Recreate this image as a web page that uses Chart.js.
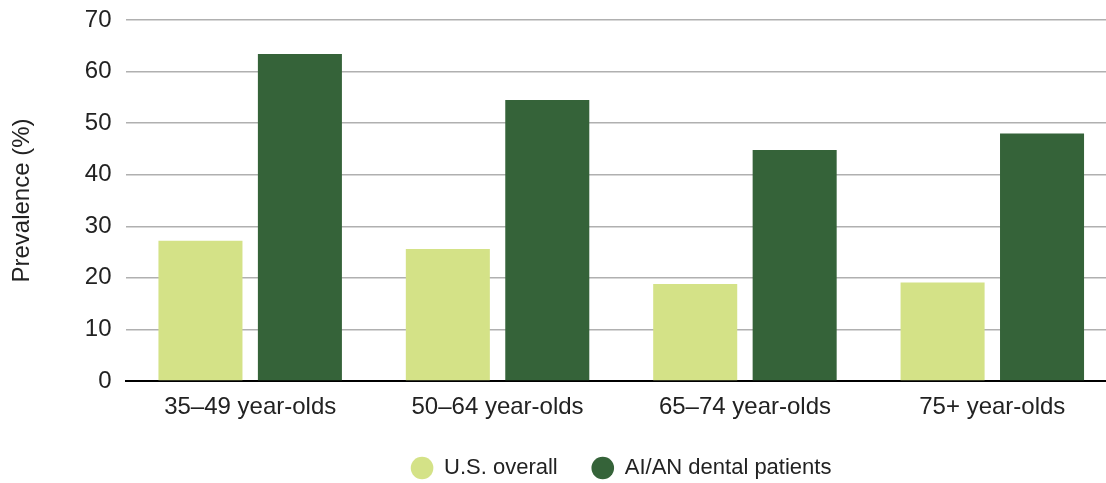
<!DOCTYPE html>
<html>
<head>
<meta charset="utf-8">
<script src="https://cdn.jsdelivr.net/npm/chart.js@4"></script>
<style>
  html, body { margin: 0; padding: 0; background: #fff; overflow: hidden; }
  #wrap { width: 1120px; height: 483px; position: relative; }
</style>
</head>
<body>
<div id="wrap"><canvas id="c" width="1120" height="483"></canvas></div>
<script>
const categories = ['35\u201349 year-olds', '50\u201364 year-olds', '65\u201374 year-olds', '75+ year-olds'];
const usOverall = [27.2, 25.6, 18.8, 19.1];
const aianPatients = [63.4, 54.5, 44.8, 48.0];
const seriesNames = ['U.S. overall', 'AI/AN dental patients'];
const yTicks = [0, 10, 20, 30, 40, 50, 60, 70];

const FONT = '"Liberation Sans", Arial, Helvetica, sans-serif';

new Chart(document.getElementById('c'), {
  type: 'bar',
  data: {
    labels: categories,
    datasets: [
      { label: seriesNames[0], data: usOverall, backgroundColor: '#d4e287', borderWidth: 0 },
      { label: seriesNames[1], data: aianPatients, backgroundColor: '#356339', borderWidth: 0 }
    ]
  },
  options: {
    responsive: false,
    animation: false,
    categoryPercentage: 0.804,
    barPercentage: 0.845,
    layout: { padding: { top: 20, left: 8, right: 4, bottom: -6 } },
    plugins: {
      tooltip: { enabled: false },
      legend: {
        position: 'bottom',
        fullSize: false,
        labels: {
          usePointStyle: true,
          pointStyle: 'circle',
          boxWidth: 22,
          boxHeight: 16,
          padding: 34,
          color: '#222',
          font: { family: FONT, size: 22 }
        }
      }
    },
    scales: {
      x: {
        grid: { display: false, drawTicks: false },
        border: { display: true, color: '#000', width: 2 },
        ticks: { color: '#222', padding: 12, font: { family: FONT, size: 24 } },
        afterFit: (s) => { s.height = 42; }
      },
      y: {
        min: 0, max: 70,
        afterBuildTicks: (axis) => { axis.ticks = yTicks.map(v => ({ value: v })); },
        afterFit: (s) => { s.paddingTop = 0; },
        grid: { color: '#b0b0b0', lineWidth: 1.5, drawTicks: false },
        border: { display: false },
        ticks: { color: '#222', padding: 15, font: { family: FONT, size: 24 } },
        title: { display: true, text: 'Prevalence (%)', color: '#222', padding: { top: 0, bottom: 33 }, font: { family: FONT, size: 24 } }
      }
    }
  }
});
</script>
</body>
</html>
